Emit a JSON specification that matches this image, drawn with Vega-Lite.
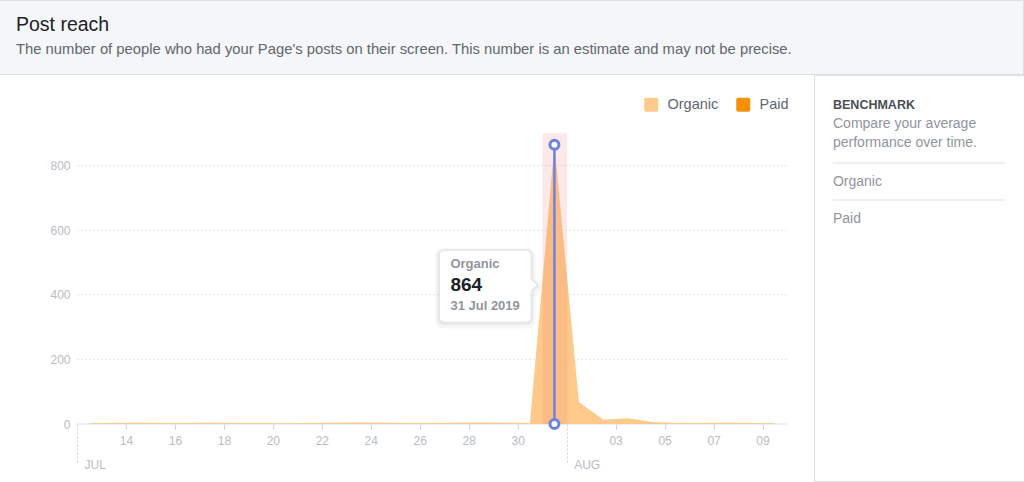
{
  "$schema": "https://vega.github.io/schema/vega-lite/v6.json",
  "background": "white",
  "padding": {"left": -2, "top": -1, "right": 0, "bottom": 0},
  "spacing": -1.5,
  "config": {
    "view": {"stroke": null},
    "font": "Liberation Sans",
    "title": {"font": "Liberation Sans", "subtitleFont": "Liberation Sans"}
  },
  "vconcat": [
    {
      "width": 1024,
      "height": 74,
      "view": {"fill": "#f5f6f7", "stroke": "#dddfe2"},
      "title": {
        "text": "Post reach",
        "subtitle": "The number of people who had your Page's posts on their screen. This number is an estimate and may not be precise.",
        "anchor": "start",
        "dx": 17,
        "offset": -58,
        "fontSize": 19.5,
        "fontWeight": "normal",
        "color": "#1d2129",
        "subtitleFontSize": 14.8,
        "subtitleColor": "#606770",
        "subtitlePadding": 6.5
      },
      "data": {"values": [{"t": ""}]},
      "mark": {"type": "text"},
      "encoding": {"text": {"field": "t"}}
    },
    {
      "spacing": 25,
      "hconcat": [
        {
          "width": 788,
          "height": 349,
          "layer": [
            {
              "data": {"values": [{"tick": 200}, {"tick": 400}, {"tick": 600}, {"tick": 800}]},
              "mark": {"type": "rule", "color": "#e4e6e9", "strokeDash": [2, 2], "strokeWidth": 1},
              "encoding": {
                "x": {"datum": {"year": 2019, "month": 7, "date": 12}, "type": "temporal", "title": null},
                "x2": {"datum": {"year": 2019, "month": 8, "date": 10}},
                "y": {"field": "tick", "type": "quantitative", "title": null}
              }
            },
            {
              "data": {"values": [{"tick": 0}]},
              "mark": {"type": "rule", "color": "#dadde1", "strokeWidth": 1},
              "encoding": {
                "x": {"datum": {"year": 2019, "month": 7, "date": 12}, "type": "temporal", "title": null},
                "x2": {"datum": {"year": 2019, "month": 8, "date": 10}},
                "y": {"field": "tick", "type": "quantitative", "title": null}
              }
            },
            {
              "data": {
                "values": [
                  {"time": "2019-07-12 12:00", "series": "Organic", "reach": 2},
                  {"time": "2019-07-13 12:00", "series": "Organic", "reach": 3},
                  {"time": "2019-07-14 12:00", "series": "Organic", "reach": 4},
                  {"time": "2019-07-15 12:00", "series": "Organic", "reach": 3},
                  {"time": "2019-07-16 12:00", "series": "Organic", "reach": 3},
                  {"time": "2019-07-17 12:00", "series": "Organic", "reach": 4},
                  {"time": "2019-07-18 12:00", "series": "Organic", "reach": 3},
                  {"time": "2019-07-19 12:00", "series": "Organic", "reach": 3},
                  {"time": "2019-07-20 12:00", "series": "Organic", "reach": 2},
                  {"time": "2019-07-21 12:00", "series": "Organic", "reach": 3},
                  {"time": "2019-07-22 12:00", "series": "Organic", "reach": 4},
                  {"time": "2019-07-23 12:00", "series": "Organic", "reach": 5},
                  {"time": "2019-07-24 12:00", "series": "Organic", "reach": 4},
                  {"time": "2019-07-25 12:00", "series": "Organic", "reach": 3},
                  {"time": "2019-07-26 12:00", "series": "Organic", "reach": 3},
                  {"time": "2019-07-27 12:00", "series": "Organic", "reach": 4},
                  {"time": "2019-07-28 12:00", "series": "Organic", "reach": 5},
                  {"time": "2019-07-29 12:00", "series": "Organic", "reach": 4},
                  {"time": "2019-07-30 12:00", "series": "Organic", "reach": 3},
                  {"time": "2019-07-31 12:00", "series": "Organic", "reach": 864},
                  {"time": "2019-08-01 12:00", "series": "Organic", "reach": 68},
                  {"time": "2019-08-02 12:00", "series": "Organic", "reach": 13},
                  {"time": "2019-08-03 12:00", "series": "Organic", "reach": 18},
                  {"time": "2019-08-04 12:00", "series": "Organic", "reach": 6},
                  {"time": "2019-08-05 12:00", "series": "Organic", "reach": 3},
                  {"time": "2019-08-06 12:00", "series": "Organic", "reach": 3},
                  {"time": "2019-08-07 12:00", "series": "Organic", "reach": 4},
                  {"time": "2019-08-08 12:00", "series": "Organic", "reach": 3},
                  {"time": "2019-08-09 12:00", "series": "Organic", "reach": 2}
                ],
                "format": {"parse": {"time": "date:'%Y-%m-%d %H:%M'"}}
              },
              "mark": {"type": "area", "interpolate": "linear"},
              "encoding": {
                "x": {
                  "field": "time",
                  "type": "temporal",
                  "title": null,
                  "scale": {"domain": [{"year": 2019, "month": 7, "date": 8, "hours": 19, "minutes": 32}, {"year": 2019, "month": 8, "date": 10}]},
                  "axis": {
                    "values": [
                      {"year": 2019, "month": 7, "date": 12},
                      {"year": 2019, "month": 7, "date": 14},
                      {"year": 2019, "month": 7, "date": 16},
                      {"year": 2019, "month": 7, "date": 18},
                      {"year": 2019, "month": 7, "date": 20},
                      {"year": 2019, "month": 7, "date": 22},
                      {"year": 2019, "month": 7, "date": 24},
                      {"year": 2019, "month": 7, "date": 26},
                      {"year": 2019, "month": 7, "date": 28},
                      {"year": 2019, "month": 7, "date": 30},
                      {"year": 2019, "month": 8, "date": 1},
                      {"year": 2019, "month": 8, "date": 3},
                      {"year": 2019, "month": 8, "date": 5},
                      {"year": 2019, "month": 8, "date": 7},
                      {"year": 2019, "month": 8, "date": 9}
                    ],
                    "labelExpr": "date(datum.value) == 1 || date(datum.value) == 12 ? upper(timeFormat(datum.value, '%b')) : timeFormat(datum.value, '%d')",
                    "labelAlign": {"condition": {"test": "date(datum.value) == 1 || date(datum.value) == 12", "value": "left"}, "value": "center"},
                    "labelBaseline": {"condition": {"test": "date(datum.value) == 1 || date(datum.value) == 12", "value": "alphabetic"}, "value": "top"},
                    "labelOffset": {"condition": {"test": "date(datum.value) == 1 || date(datum.value) == 12", "value": 7}, "value": 0},
                    "tickSize": {"condition": {"test": "date(datum.value) == 1 || date(datum.value) == 12", "value": 38}, "value": 5},
                    "tickDash": {"condition": {"test": "date(datum.value) == 1 || date(datum.value) == 12", "value": [2, 2]}, "value": []},
                    "tickColor": "#cfd2d6",
                    "domain": false,
                    "labelColor": "#b8bcc3",
                    "labelFontSize": 12,
                    "labelPadding": 6,
                    "labelOverlap": false,
                    "labelFlush": false,
                    "labelBound": false,
                    "grid": false,
                    "title": null
                  }
                },
                "y": {
                  "field": "reach",
                  "type": "quantitative",
                  "title": null,
                  "scale": {"domain": [0, 1080], "nice": false},
                  "axis": {
                    "values": [0, 200, 400, 600, 800],
                    "grid": false,
                    "domain": false,
                    "ticks": false,
                    "offset": -78,
                    "minExtent": 0,
                    "labelColor": "#b8bcc3",
                    "labelFontSize": 12,
                    "labelPadding": 7,
                    "title": null
                  }
                },
                "color": {
                  "field": "series",
                  "type": "nominal",
                  "scale": {"domain": ["Organic", "Paid"], "range": ["#fec98b", "#f79009"]},
                  "legend": {
                    "orient": "none",
                    "legendX": 645,
                    "legendY": 97,
                    "direction": "horizontal",
                    "title": null,
                    "symbolType": "M-0.75,-1L0.75,-1Q1,-1 1,-0.75L1,0.75Q1,1 0.75,1L-0.75,1Q-1,1 -1,0.75L-1,-0.75Q-1,-1 -0.75,-1Z",
                    "symbolSize": 196,
                    "symbolStrokeWidth": 0,
                    "symbolOpacity": 1,
                    "labelFontSize": 14.5,
                    "labelColor": "#606770",
                    "labelFont": "Liberation Sans",
                    "labelOffset": 9,
                    "columnPadding": 17,
                    "padding": 0
                  }
                }
              }
            },
            {
              "data": {"values": [{"date": "2019-07-31"}], "format": {"parse": {"date": "date:'%Y-%m-%d'"}}},
              "mark": {"type": "rect", "color": "#eb6e5f", "opacity": 0.15},
              "encoding": {
                "x": {"field": "date", "type": "temporal", "timeUnit": "yearmonthdate", "title": null},
                "y": {"datum": 0, "type": "quantitative", "title": null},
                "y2": {"datum": 900}
              }
            },
            {
              "data": {"values": [{"date": "2019-07-31", "series": "Organic", "reach": 864}], "format": {"parse": {"date": "date:'%Y-%m-%d'"}}},
              "layer": [
                {
                  "mark": {"type": "rule", "color": "#6d83e4", "strokeWidth": 2.5},
                  "encoding": {
                    "x": {"field": "date", "type": "temporal", "timeUnit": "yearmonthdate", "bandPosition": 0.5, "title": null},
                    "y": {"field": "reach", "type": "quantitative", "title": null},
                    "y2": {"datum": 0}
                  }
                },
                {
                  "mark": {"type": "point", "filled": false, "fill": "white", "stroke": "#6d83e4", "strokeWidth": 3, "size": 80, "opacity": 1},
                  "encoding": {
                    "x": {"field": "date", "type": "temporal", "timeUnit": "yearmonthdate", "bandPosition": 0.5, "title": null},
                    "y": {"field": "reach", "type": "quantitative", "title": null}
                  }
                },
                {
                  "mark": {"type": "point", "filled": false, "fill": "white", "stroke": "#6d83e4", "strokeWidth": 3, "size": 80, "opacity": 1},
                  "encoding": {
                    "x": {"field": "date", "type": "temporal", "timeUnit": "yearmonthdate", "bandPosition": 0.5, "title": null},
                    "y": {"datum": 0, "type": "quantitative", "title": null}
                  }
                },
                {
                  "mark": {"type": "point", "shape": "M-1.10,-0.347L-0.283,-0.347Q-0.233,-0.347 -0.233,-0.297L-0.233,-0.06L-0.175,0L-0.233,0.06L-0.233,0.32Q-0.233,0.37 -0.283,0.37L-1.10,0.37Q-1.15,0.37 -1.15,0.32L-1.15,-0.297Q-1.15,-0.347 -1.10,-0.347Z", "size": 40000, "filled": false, "stroke": "black", "strokeOpacity": 0.035, "strokeWidth": 9, "yOffset": 2, "opacity": 1},
                  "encoding": {
                    "x": {"field": "date", "type": "temporal", "timeUnit": "yearmonthdate", "bandPosition": 0.5, "title": null},
                    "y": {"datum": 430, "type": "quantitative", "title": null}
                  }
                },
                {
                  "mark": {"type": "point", "shape": "M-1.10,-0.347L-0.283,-0.347Q-0.233,-0.347 -0.233,-0.297L-0.233,-0.06L-0.175,0L-0.233,0.06L-0.233,0.32Q-0.233,0.37 -0.283,0.37L-1.10,0.37Q-1.15,0.37 -1.15,0.32L-1.15,-0.297Q-1.15,-0.347 -1.10,-0.347Z", "size": 40000, "filled": false, "stroke": "black", "strokeOpacity": 0.05, "strokeWidth": 4, "yOffset": 1, "opacity": 1},
                  "encoding": {
                    "x": {"field": "date", "type": "temporal", "timeUnit": "yearmonthdate", "bandPosition": 0.5, "title": null},
                    "y": {"datum": 430, "type": "quantitative", "title": null}
                  }
                },
                {
                  "mark": {"type": "point", "shape": "M-1.10,-0.347L-0.283,-0.347Q-0.233,-0.347 -0.233,-0.297L-0.233,-0.06L-0.175,0L-0.233,0.06L-0.233,0.32Q-0.233,0.37 -0.283,0.37L-1.10,0.37Q-1.15,0.37 -1.15,0.32L-1.15,-0.297Q-1.15,-0.347 -1.10,-0.347Z", "size": 40000, "filled": true, "fill": "white", "stroke": "#e3e5e8", "strokeWidth": 1, "opacity": 1},
                  "encoding": {
                    "x": {"field": "date", "type": "temporal", "timeUnit": "yearmonthdate", "bandPosition": 0.5, "title": null},
                    "y": {"datum": 430, "type": "quantitative", "title": null}
                  }
                },
                {
                  "mark": {"type": "text", "align": "left", "baseline": "middle", "dx": -104, "dy": -21, "fontSize": 13, "fontWeight": "bold", "color": "#90949c"},
                  "encoding": {
                    "x": {"field": "date", "type": "temporal", "timeUnit": "yearmonthdate", "bandPosition": 0.5, "title": null},
                    "y": {"datum": 430, "type": "quantitative", "title": null},
                    "text": {"field": "series"}
                  }
                },
                {
                  "mark": {"type": "text", "align": "left", "baseline": "middle", "dx": -104, "dy": 0, "fontSize": 19, "fontWeight": "bold", "color": "#1d2129"},
                  "encoding": {
                    "x": {"field": "date", "type": "temporal", "timeUnit": "yearmonthdate", "bandPosition": 0.5, "title": null},
                    "y": {"datum": 430, "type": "quantitative", "title": null},
                    "text": {"field": "reach", "type": "quantitative"}
                  }
                },
                {
                  "mark": {"type": "text", "align": "left", "baseline": "middle", "dx": -104, "dy": 21, "fontSize": 13, "fontWeight": "bold", "color": "#90949c"},
                  "encoding": {
                    "x": {"field": "date", "type": "temporal", "timeUnit": "yearmonthdate", "bandPosition": 0.5, "title": null},
                    "y": {"datum": 430, "type": "quantitative", "title": null},
                    "text": {"field": "date", "type": "temporal", "format": "%d %b %Y"}
                  }
                }
              ]
            }
          ]
        },
        {
          "width": 210,
          "height": 406,
          "view": {"stroke": "#dddfe2"},
          "title": {
            "text": "BENCHMARK",
            "subtitle": ["Compare your average", "performance over time."],
            "anchor": "start",
            "dx": 19,
            "offset": -75,
            "fontSize": 12.5,
            "fontWeight": "bold",
            "color": "#4b4f56",
            "subtitleFontSize": 14,
            "subtitleColor": "#90949c",
            "subtitlePadding": 6,
            "subtitleLineHeight": 19
          },
          "data": {"values": [{"item": "Organic"}, {"item": "Paid"}]},
          "layer": [
            {
              "mark": {"type": "rule", "color": "#dddfe2", "strokeWidth": 1},
              "encoding": {
                "y": {"field": "item", "type": "nominal", "bandPosition": 0, "axis": null, "scale": {"type": "band", "paddingInner": 0, "paddingOuter": 0, "range": [88, 162]}},
                "x": {"datum": 0, "type": "quantitative", "scale": {"domain": [-0.11, 1.11], "nice": false, "zero": false}, "axis": null},
                "x2": {"datum": 1}
              }
            },
            {
              "mark": {"type": "text", "align": "left", "baseline": "middle", "fontSize": 14, "color": "#90949c"},
              "encoding": {
                "y": {"field": "item", "type": "nominal", "axis": null},
                "x": {"datum": 0, "type": "quantitative", "axis": null},
                "text": {"field": "item"}
              }
            }
          ]
        }
      ]
    }
  ]
}
